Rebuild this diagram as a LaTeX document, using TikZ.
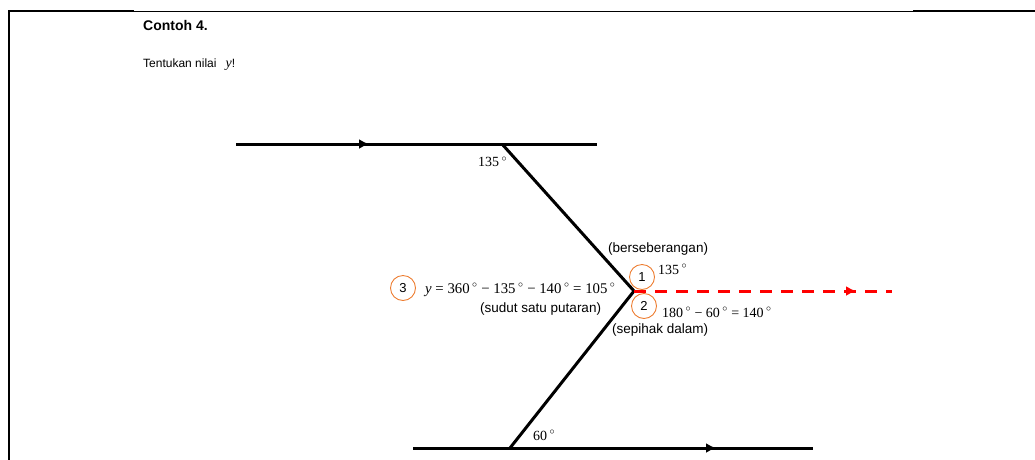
\documentclass[tikz,border=0pt]{standalone}
\usepackage{fontspec}
\setmainfont{Liberation Serif}
\setsansfont{Liberation Sans}
\usepackage{xcolor}
\definecolor{circorange}{RGB}{237,125,49}
\definecolor{dashred}{RGB}{255,0,0}
\usetikzlibrary{arrows.meta,positioning}
\newcommand{\dg}{\,\textsuperscript{$\circ$}}
\tikzset{
  parline/.style={line width=3pt},
  auxline/.style={dashred, line width=3pt, dash pattern=on 12pt off 9pt},
  midtip/.style={-{Latex[length=10pt, width=10pt]}},
  numcirc/.style={circle, draw=circorange, line width=0.9pt, minimum size=25pt, inner sep=0pt, font=\sffamily\fontsize{13}{13}\selectfont},
  deglbl/.style={anchor=base west, inner sep=0pt, font=\fontsize{14}{16}\selectfont},
  notelbl/.style={anchor=base west, inner sep=0pt, font=\sffamily\fontsize{13.5}{16}\selectfont}
}

\begin{document}
\begin{tikzpicture}[x=1pt, y=-1pt]
  \useasboundingbox (0,0) rectangle (1035,459);

  % Page frame
  \draw[line width=2pt] (9,460) -- (9,11) -- (134,11);
  \draw[line width=1pt] (134,11) -- (913,11);
  \draw[line width=2.5pt] (913,11) -- (1036,11);

  % Title and question
  \node[anchor=base west, inner sep=0pt, font=\sffamily\bfseries\fontsize{14}{16}\selectfont] (title) at (143,30) {Contoh 4.};
  \node[anchor=base west, inner sep=0pt, font=\sffamily\fontsize{12}{14}\selectfont] (question) at (143,67) {Tentukan nilai\hspace{9pt}\textrm{\fontsize{14}{14}\selectfont\textit{y}}!};

  % Points
  \coordinate (tl) at (236,144);
  \coordinate (ta) at (369,144);
  \coordinate (tr) at (597,144);
  \coordinate (tx) at (502,144);
  \coordinate (v) at (634,291);
  \coordinate (bx) at (510,448);
  \coordinate (bl) at (413,448);
  \coordinate (ba) at (716,448);
  \coordinate (br) at (813,448);
  \coordinate (ra) at (856,291);
  \coordinate (re) at (892,291);

  % Parallel lines
  \draw[parline] (tl) -- (tr);
  \draw[parline, midtip] (tl) -- (ta);
  \draw[parline] (bl) -- (br);
  \draw[parline, midtip] (bl) -- (ba);

  % Bent transversal
  \draw[parline, line join=miter] (tx) -- (v) -- (bx);

  % Helper line through the vertex
  \draw[auxline] (v) -- (re);
  \draw[auxline, solid, midtip] ([xshift=-8pt]ra) -- (ra);

  % Given angles
  \node[deglbl] (top135) at (478,166.5) {135\dg};
  \node[deglbl] (bot60) at (533,440) {60\dg};

  % Steps
  \node[numcirc] (c1) at (642,277) {1};
  \node[numcirc] (c2) at (644,306) {2};
  \node[numcirc] (c3) at (403,288) {3};
  \node[notelbl] (alt) at (608,252) {(berseberangan)};
  \node[deglbl] (ang1) at (658,274) {135\dg};
  \node[deglbl] (ang2) at (662,317) {180\dg{} − 60\dg{} = 140\dg};
  \node[notelbl] (co) at (612,333) {(sepihak dalam)};
  \node[deglbl, font=\fontsize{14.8}{16}\selectfont] (ang3) at (425,293) {\textit{y} = 360\dg{} − 135\dg{} − 140\dg{} = 105\dg};
  \node[notelbl] (full) at (480,312) {(sudut satu putaran)};
\end{tikzpicture}
\end{document}
